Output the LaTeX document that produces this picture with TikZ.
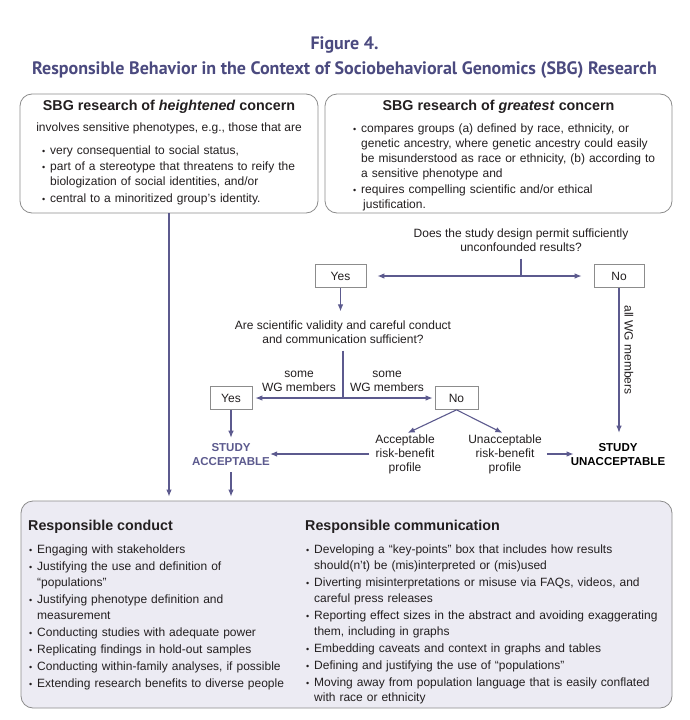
\documentclass[tikz,border=0pt]{standalone}
\usepackage{fontspec}
\setmainfont{Liberation Sans}
\newfontfamily\titlefont{PT Sans}
\usetikzlibrary{arrows.meta}
\definecolor{titlecol}{RGB}{75,74,127}
\definecolor{arrcol}{RGB}{92,90,142}
\definecolor{boxline}{RGB}{140,140,140}
\definecolor{bfill}{RGB}{236,235,243}
\definecolor{txt}{RGB}{35,31,32}
\newcommand\bitem{\par\noindent\hangindent=8pt\hangafter=1\makebox[8pt][l]{\fontsize{9}{9}\selectfont •}}
\begin{document}
\begin{tikzpicture}[x=1pt,y=-1pt,
  bigbox/.style={draw=boxline, line width=0.8pt, rounded corners=12pt, inner sep=0pt},
  yn/.style={draw=boxline, line width=0.7pt, fill=white, minimum height=23pt, inner sep=0pt, text=txt, font=\fontsize{12}{14}\selectfont},
  arr/.style={draw=arrcol, line width=1.1pt, -{Latex[length=7pt,width=5.5pt]}},
  ln/.style={draw=arrcol, line width=1.1pt},
  body/.style={font=\fontsize{12}{14}\selectfont, text=txt, inner sep=0pt},
  boxtitle/.style={font=\bfseries\fontsize{14.3}{16}\selectfont, text=txt, inner sep=0pt},
  verdict/.style={font=\bfseries\fontsize{11.5}{14}\selectfont, align=center, inner sep=0pt},
  toplist/.style={inner sep=0pt, text=txt, align=left, anchor=north west, font=\fontsize{12}{15}\selectfont},
  botlist/.style={inner sep=0pt, text=txt, align=left, anchor=north west, font=\fontsize{12}{15.8}\selectfont},
  ttl/.style={font=\titlefont\bfseries\fontsize{18}{21}\selectfont, text=titlecol, inner sep=0pt}
]
\useasboundingbox (0,0) rectangle (689,720);
\fill[white] (0,0) rectangle (689,720);

% titles
\node[ttl, anchor=base] (t1) at (344.5,49) {Figure 4.};
\node[ttl, anchor=base] (t2) at (344.5,74) {Responsible Behavior in the Context of Sociobehavioral Genomics (SBG) Research};

% top boxes
\node[bigbox, minimum width=298pt, minimum height=119pt] (lbox) at (169,153.5) {};
\node[bigbox, minimum width=347pt, minimum height=119pt] (rbox) at (498.5,153.5) {};

\node[boxtitle, anchor=base] (ltitle) at (169,110) {SBG research of \textit{heightened} concern};
\node[body, anchor=base] (linv) at (169,131) {involves sensitive phenotypes, e.g., those that are};
\node[toplist, text width=270pt] (llist) at (42,137.4) {\setlength\parskip{1.5pt}%
\bitem very consequential to social status,
\bitem part of a stereotype that threatens to reify the\newline biologization of social identities, and/or
\bitem central to a minoritized group’s identity.\par};

\node[boxtitle, anchor=base] (rtitle) at (498.5,110) {SBG research of \textit{greatest} concern};
\node[toplist, text width=315pt, font=\fontsize{12}{15.1}\selectfont] (rlist) at (353,115.4) {\setlength\parskip{1.3pt}%
\bitem compares groups (a) defined by race, ethnicity, or\newline genetic ancestry, where genetic ancestry could easily\newline be misunderstood as race or ethnicity, (b) according to\newline a sensitive phenotype and
\bitem requires compelling scientific and/or ethical\newline \hspace*{2pt}justification.\par};

% first question
\node[body, align=center, anchor=north] (q1) at (521,228.4) {Does the study design permit sufficiently\\ unconfounded results?};
\coordinate (j1) at (521,276);
\node[yn, minimum width=51pt] (yes1) at (340.5,276) {Yes};
\node[yn, minimum width=50pt] (no1) at (619,276) {No};
\draw[ln] ([yshift=-7pt]q1.south) -- (j1);
\draw[arr, shorten >=11pt] (j1) -- (yes1.east);
\draw[arr, shorten >=12pt] (j1) -- (no1.west);

% second question
\node[body, align=center, anchor=north] (q2) at (343,320.4) {Are scientific validity and careful conduct\\ and communication sufficient?};
\draw[arr, shorten >=9pt] (yes1.south) -- (yes1.south |- q2.north);
\coordinate (j2) at (343,398);
\node[yn, minimum width=42pt] (yes2) at (231,398) {Yes};
\node[yn, minimum width=43pt] (no2) at (456.5,398) {No};
\draw[ln] ([yshift=-7pt]q2.south) -- (j2);
\draw[arr, shorten >=3pt] (j2) -- (yes2.east);
\draw[arr, shorten >=2pt] (j2) -- (no2.west);
\node[body, align=center, anchor=south] (lab1) at (299,392) {some\\ WG members};
\node[body, align=center, anchor=south] (lab2) at (387,392) {some\\ WG members};

% outcomes
\node[verdict, text=arrcol] (sacc) at (231,455) {STUDY\\ ACCEPTABLE};
\node[verdict, text=black] (sunacc) at (618,455) {STUDY\\ UNACCEPTABLE};
\node[body, align=center] (acc) at (405,454) {Acceptable\\ risk-benefit\\ profile};
\node[body, align=center] (unacc) at (505,454) {Unacceptable\\ risk-benefit\\ profile};
\node[body, rotate=-90] (allwg) at (629,350) {all WG members};

\draw[arr, shorten >=6pt] (yes2.south) -- (yes2.south |- sacc.north);
\draw[arr, shorten >=3pt] (no2.south) -- (acc.north);
\draw[arr, shorten >=3pt] (no2.south) -- (unacc.north);
\draw[arr, shorten <=6pt] (acc.west) -- (acc.west -| sacc.east);
\draw[arr, shorten <=5pt, shorten >=-3pt] (unacc.east) -- (unacc.east -| sunacc.west);
\draw[arr, shorten >=11pt] (no1.south) -- (no1.south |- sunacc.north);

% bottom box
\node[bigbox, fill=bfill, minimum width=651pt, minimum height=207pt] (bbox) at (346.5,604.5) {};
\draw[arr, shorten >=4pt] (lbox.south) -- (lbox.south |- bbox.north);
\draw[arr, shorten <=6pt, shorten >=4pt] (sacc.south) -- (sacc.south |- bbox.north);

\node[boxtitle, anchor=base west] (rcond) at (28,530) {Responsible conduct};
\node[boxtitle, anchor=base west] (rcomm) at (305,530) {Responsible communication};
\node[botlist, text width=270pt] (clist) at (29,536.4) {\setlength\parskip{1.2pt}%
\bitem Engaging with stakeholders
\bitem Justifying the use and definition of\newline “populations”
\bitem Justifying phenotype definition and\newline measurement
\bitem Conducting studies with adequate power
\bitem Replicating findings in hold-out samples
\bitem Conducting within-family analyses, if possible
\bitem Extending research benefits to diverse people\par};
\node[botlist, text width=365pt] (mlist) at (306,536.4) {\setlength\parskip{1.2pt}%
\bitem Developing a “key-points” box that includes how results\newline should(n’t) be (mis)interpreted or (mis)used
\bitem Diverting misinterpretations or misuse via FAQs, videos, and\newline careful press releases
\bitem Reporting effect sizes in the abstract and avoiding exaggerating\newline them, including in graphs
\bitem Embedding caveats and context in graphs and tables
\bitem Defining and justifying the use of “populations”
\bitem Moving away from population language that is easily conflated\newline with race or ethnicity\par};
\end{tikzpicture}
\end{document}
